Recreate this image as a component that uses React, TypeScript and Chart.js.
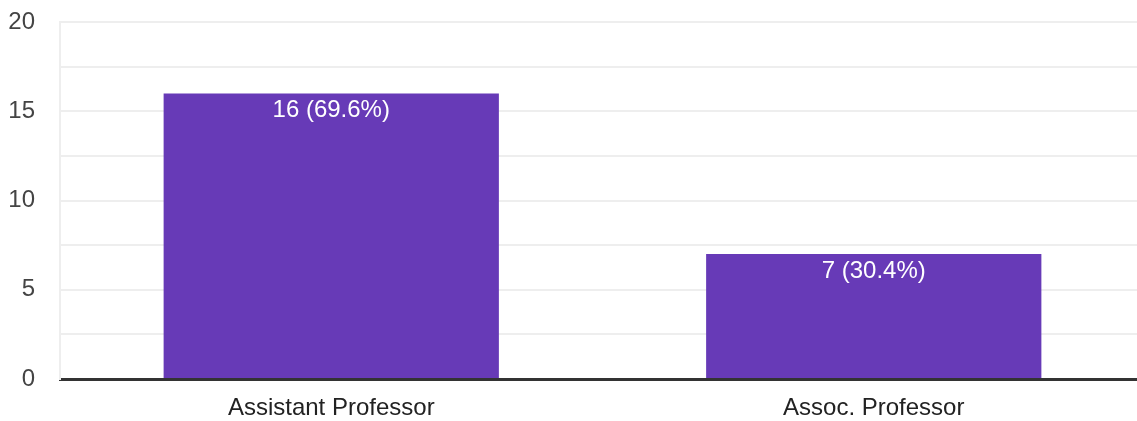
import React, { useEffect, useRef } from "react";
import { Chart, registerables } from "chart.js";

Chart.register(...registerables);

const categories = ["Assistant Professor", "Assoc. Professor"];
const counts = [16, 7];
const percentLabels = ["69.6%", "30.4%"];
const yTickLabels = ["0", "5", "10", "15", "20"];

const FONT = "'Liberation Sans', Arial, sans-serif";

const barLabelPlugin = {
  id: "barLabels",
  afterDatasetsDraw(chart: any) {
    const meta = chart.getDatasetMeta(0);
    const ctx = chart.ctx;
    ctx.save();
    ctx.fillStyle = "#ffffff";
    ctx.font = `24px ${FONT}`;
    ctx.textAlign = "center";
    ctx.textBaseline = "middle";
    meta.data.forEach((bar: any, i: number) => {
      ctx.fillText(`${counts[i]} (${percentLabels[i]})`, bar.x, bar.y + 17);
    });
    ctx.restore();
  },
};

export default function App() {
  const ref = useRef<HTMLCanvasElement>(null);
  useEffect(() => {
    document.body.style.margin = "0";
    document.body.style.overflow = "hidden";
    const chart = new Chart(ref.current!, {
      type: "bar",
      data: {
        labels: categories,
        datasets: [
          {
            data: counts,
            backgroundColor: "#673ab7",
            categoryPercentage: 1,
            barPercentage: 0.618,
          },
        ],
      },
      options: {
        responsive: false,
        animation: false,
        layout: { padding: { left: 9, top: 22, right: 1, bottom: 0 } },
        plugins: { legend: { display: false }, tooltip: { enabled: false } },
        scales: {
          x: {
            grid: { display: false, drawTicks: false },
            border: { color: "#333333", width: 3 },
            ticks: { color: "#222222", font: { family: FONT, size: 24 }, padding: 15 },
            afterFit: (scale: any) => {
              scale.height = 42;
              scale.paddingLeft = 0;
              scale.paddingRight = 0;
            },
          },
          y: {
            min: 0,
            max: 20,
            ticks: {
              stepSize: 2.5,
              color: "#444444",
              font: { family: FONT, size: 24 },
              padding: 25,
              callback: (v: any) => {
                const s = String(v);
                return yTickLabels.includes(s) ? s : "";
              },
            },
            grid: { color: "#eeeeee", lineWidth: 2, drawTicks: false },
            border: { color: "#eeeeee", width: 2 },
            afterFit: (scale: any) => {
              scale.width = 51;
              scale.paddingTop = 0;
              scale.paddingBottom = 0;
            },
          },
        },
      },
      plugins: [barLabelPlugin],
    });
    return () => chart.destroy();
  }, []);
  return (
    <div style={{ position: "absolute", left: 0, top: 0, width: 1146, height: 421 }}>
      <canvas ref={ref} width={1146} height={421} />
    </div>
  );
}
